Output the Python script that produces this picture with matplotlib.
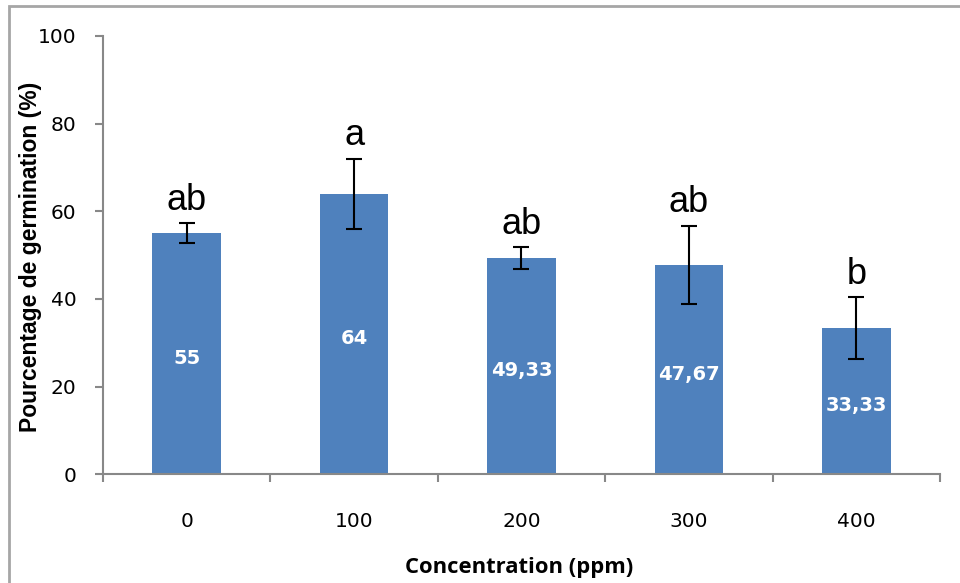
import matplotlib.pyplot as plt
from matplotlib.patches import Rectangle
import numpy as np

# Germination percentage by concentration, with SE and group letters
concentrations = ['0', '100', '200', '300', '400']
germination = [55, 64, 49.33, 47.67, 33.33]
errors = [2.2, 8, 2.4, 8.9, 7]
groups = ['ab', 'a', 'ab', 'ab', 'b']

blue = '#4F81BD'
grey = '#888888'

fig = plt.figure(figsize=(9.6, 5.83), dpi=100)
ax = fig.add_axes([0.1073, 0.1865, 0.8718, 0.752])

x = np.arange(len(concentrations))
ax.bar(x, germination, width=0.41, color=blue, zorder=2)
ax.errorbar(x, germination, yerr=errors, fmt='none', ecolor='black',
            elinewidth=1.5, capsize=5.5, capthick=1.5, zorder=3)

for xi, v, e, g in zip(x, germination, errors, groups):
    # letter above the error bar
    ax.annotate(g, (xi, v + e), xytext=(0, 10), textcoords='offset points',
                ha='center', va='baseline', fontsize=26,
                family=['Liberation Sans', 'DejaVu Sans'])
    # value inside the bar
    ax.text(xi, v / 2 - 1, f'{v:g}'.replace('.', ','), ha='center',
            va='center', color='white', fontsize=14, fontweight='bold')

ax.set_xlim(-0.5, len(concentrations) - 0.5)
ax.set_ylim(0, 100)
ax.set_yticks(range(0, 101, 20))
ax.set_xticks(x)
ax.set_xticklabels(concentrations)
ax.set_xticks(np.arange(-0.5, len(concentrations)), minor=True)

ax.tick_params(axis='x', which='major', length=0, pad=27, labelsize=14.5)
ax.tick_params(axis='x', which='minor', length=6, width=1.5, color=grey)
ax.tick_params(axis='y', length=6, width=1.5, color=grey, pad=13,
               labelsize=14.5)

for s in ['top', 'right']:
    ax.spines[s].set_visible(False)
for s in ['left', 'bottom']:
    ax.spines[s].set_color(grey)
    ax.spines[s].set_linewidth(1.5)

fig.text(31 / 960, 1 - 257 / 583, 'Pourcentage de germination (%)',
         rotation=90, ha='center', va='center', fontsize=16.5,
         fontweight='bold', family=['Liberation Sans Narrow', 'Liberation Sans'])
fig.text(519 / 960, 1 - 567 / 583, 'Concentration (ppm)', ha='center',
         va='center', fontsize=15.8, fontweight='bold',
         family=['Open Sans', 'DejaVu Sans'])

# chart frame
fig.patches.append(Rectangle((9 / 960, -0.1), 1.0, 1.1 - 6 / 583,
                             transform=fig.transFigure, fill=False,
                             edgecolor='#a6a6a6', linewidth=2))

fig.savefig('out.png', dpi=100)
